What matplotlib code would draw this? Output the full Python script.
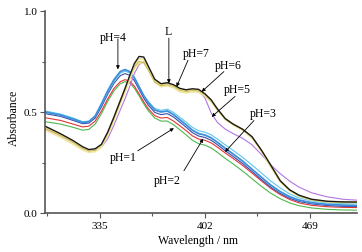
import matplotlib
matplotlib.use("Agg")
import matplotlib.pyplot as plt
from matplotlib.ticker import FixedLocator

plt.rcParams['font.family'] = ['Liberation Serif', 'DejaVu Serif']

wavelength = [300, 310, 318, 324, 328, 332, 336, 340, 344, 348, 351, 354, 357, 360, 363, 366, 370, 374, 378, 382,
              386, 390, 394, 398, 402, 406, 410, 415, 420, 426, 432, 438, 444, 450, 456, 462, 470, 480, 490, 500]

green = [0.452, 0.440, 0.424, 0.410, 0.414, 0.440, 0.492, 0.553, 0.605, 0.640, 0.650, 0.643, 0.618, 0.580, 0.540, 0.505, 0.470, 0.455, 0.455, 0.437,
         0.412, 0.387, 0.360, 0.343, 0.336, 0.322, 0.300, 0.270, 0.243, 0.208, 0.170, 0.132, 0.098, 0.071, 0.050, 0.036, 0.025, 0.018, 0.015, 0.014]
red = [0.472, 0.458, 0.440, 0.426, 0.430, 0.455, 0.505, 0.565, 0.617, 0.650, 0.660, 0.653, 0.628, 0.590, 0.550, 0.515, 0.482, 0.470, 0.473, 0.455,
       0.432, 0.408, 0.382, 0.366, 0.360, 0.347, 0.326, 0.297, 0.270, 0.236, 0.198, 0.159, 0.122, 0.091, 0.067, 0.050, 0.038, 0.031, 0.028, 0.027]
navy = [0.492, 0.478, 0.458, 0.442, 0.445, 0.470, 0.525, 0.588, 0.642, 0.680, 0.690, 0.682, 0.655, 0.612, 0.568, 0.533, 0.498, 0.487, 0.492, 0.475,
        0.450, 0.425, 0.398, 0.381, 0.374, 0.360, 0.338, 0.308, 0.280, 0.245, 0.206, 0.166, 0.128, 0.097, 0.073, 0.057, 0.045, 0.037, 0.033, 0.032]
cyan = [0.505, 0.490, 0.470, 0.452, 0.455, 0.480, 0.535, 0.598, 0.652, 0.692, 0.702, 0.694, 0.666, 0.624, 0.582, 0.550, 0.518, 0.508, 0.514, 0.498,
        0.474, 0.450, 0.424, 0.407, 0.400, 0.387, 0.366, 0.337, 0.310, 0.276, 0.238, 0.198, 0.158, 0.124, 0.095, 0.075, 0.060, 0.051, 0.047, 0.045]
blue = [0.500, 0.485, 0.465, 0.448, 0.452, 0.480, 0.540, 0.605, 0.660, 0.700, 0.710, 0.700, 0.670, 0.625, 0.580, 0.545, 0.510, 0.500, 0.505, 0.487,
        0.462, 0.437, 0.410, 0.393, 0.386, 0.372, 0.350, 0.320, 0.292, 0.257, 0.217, 0.177, 0.138, 0.106, 0.081, 0.064, 0.051, 0.043, 0.039, 0.037]

purple = [0.418, 0.383, 0.350, 0.320, 0.308, 0.310, 0.325, 0.368, 0.435, 0.510, 0.565, 0.625, 0.690, 0.735, 0.748, 0.718, 0.660, 0.635, 0.640, 0.630,
          0.612, 0.605, 0.610, 0.603, 0.570, 0.495, 0.448, 0.415, 0.393, 0.370, 0.338, 0.290, 0.238, 0.195, 0.158, 0.128, 0.100, 0.080, 0.068, 0.063]
pale_yellow = [0.410, 0.375, 0.340, 0.312, 0.300, 0.304, 0.326, 0.385, 0.460, 0.540, 0.598, 0.660, 0.715, 0.742, 0.745, 0.710, 0.650, 0.625, 0.630, 0.620,
               0.600, 0.595, 0.600, 0.598, 0.578, 0.550, 0.508, 0.462, 0.436, 0.410, 0.372, 0.305, 0.228, 0.155, 0.110, 0.083, 0.064, 0.055, 0.052, 0.051]
khaki = [0.420, 0.384, 0.350, 0.320, 0.307, 0.312, 0.336, 0.398, 0.478, 0.560, 0.618, 0.676, 0.725, 0.750, 0.745, 0.705, 0.648, 0.630, 0.636, 0.627,
         0.608, 0.602, 0.607, 0.605, 0.585, 0.556, 0.512, 0.466, 0.440, 0.414, 0.376, 0.310, 0.233, 0.158, 0.113, 0.086, 0.066, 0.057, 0.054, 0.053]
yellow = [0.425, 0.388, 0.354, 0.324, 0.311, 0.315, 0.338, 0.399, 0.476, 0.556, 0.614, 0.676, 0.733, 0.763, 0.762, 0.716, 0.656, 0.635, 0.640, 0.631,
          0.612, 0.606, 0.611, 0.609, 0.588, 0.558, 0.514, 0.467, 0.441, 0.415, 0.377, 0.311, 0.235, 0.159, 0.114, 0.087, 0.067, 0.058, 0.055, 0.054]
black = [0.430, 0.392, 0.358, 0.328, 0.314, 0.318, 0.340, 0.400, 0.475, 0.555, 0.615, 0.680, 0.740, 0.775, 0.772, 0.725, 0.662, 0.640, 0.645, 0.635,
         0.617, 0.610, 0.615, 0.612, 0.590, 0.560, 0.515, 0.467, 0.440, 0.415, 0.378, 0.312, 0.237, 0.160, 0.115, 0.088, 0.068, 0.058, 0.055, 0.054]

series = [
    (green, '#4fb84f', 0.8),
    (red, '#e03535', 0.8),
    (navy, '#3b4fa8', 0.8),
    (cyan, '#5cc8ea', 0.8),
    (blue, '#3d8fdc', 1.3),
    (purple, '#b377e0', 0.8),
    (pale_yellow, '#efe6a0', 1.2),
    (khaki, '#c9b84e', 0.8),
    (yellow, '#eee27a', 0.9),
    (black, '#1a1a1a', 1.0),
]

x_ticks = [335, 402, 469]
x_tick_labels = ['335', '402', '469']
y_ticks = [0.0, 0.5, 1.0]

annotations = [
    ('pH=4', (343.6, 0.871), (346.5, 0.862), (346.5, 0.711)),
    ('L', (378.4, 0.900), (379.0, 0.866), (379.0, 0.642)),
    ('pH=7', (396.3, 0.791), (391.2, 0.756), (383.9, 0.625)),
    ('pH=6', (417.0, 0.731), (414.1, 0.700), (399.9, 0.600)),
    ('pH=5', (422.4, 0.612), (421.2, 0.577), (406.3, 0.476)),
    ('pH=3', (439.0, 0.493), (433.3, 0.458), (414.8, 0.302)),
    ('pH=2', (377.8, 0.164), (388.6, 0.209), (400.9, 0.368)),
    ('pH=1', (350.0, 0.279), (359.2, 0.308), (382.2, 0.420)),
]

fig = plt.figure(figsize=(3.62, 2.53), dpi=100)
ax = fig.add_axes([45 / 362, 39 / 253, 312 / 362, 202 / 253])

for ys, c, lw in series:
    ax.plot(wavelength, ys, color=c, lw=lw)

ax.set_xlim(300, 499)
ax.set_ylim(0, 1.0)
ax.set_xticks(x_ticks)
ax.set_xticklabels(x_tick_labels)
ax.xaxis.set_minor_locator(FixedLocator([301.5, 368.5, 435.5]))
ax.set_yticks(y_ticks)
ax.set_yticklabels(['0.0', '0.5', '1.0'])
ax.yaxis.set_minor_locator(FixedLocator([0.25, 0.75]))

for side in ['top', 'right']:
    ax.spines[side].set_visible(False)
for side in ['left', 'bottom']:
    ax.spines[side].set_color('#555555')
    ax.spines[side].set_linewidth(1.2)

ax.tick_params(axis='both', which='major', direction='out', length=3.5, width=0.8,
               labelsize=8, pad=2, color='#555555')
ax.tick_params(axis='both', which='minor', direction='out', length=2, width=0.8, color='#555555')

ax.set_xlabel('Wavelength / nm', fontsize=8.5)
ax.xaxis.set_label_coords(0.49, -0.105)
ax.set_ylabel('Absorbance', fontsize=8.5)
ax.yaxis.set_label_coords(-0.08, 0.475)

for label, tpos, start, tip in annotations:
    ax.text(tpos[0], tpos[1], label, fontsize=8.5, ha='center', va='center')
    ax.annotate('', xy=tip, xytext=start,
                arrowprops=dict(arrowstyle='-|>', color='black', lw=0.6,
                                mutation_scale=5, shrinkA=0, shrinkB=0))

fig.savefig('out.png', dpi=100)
